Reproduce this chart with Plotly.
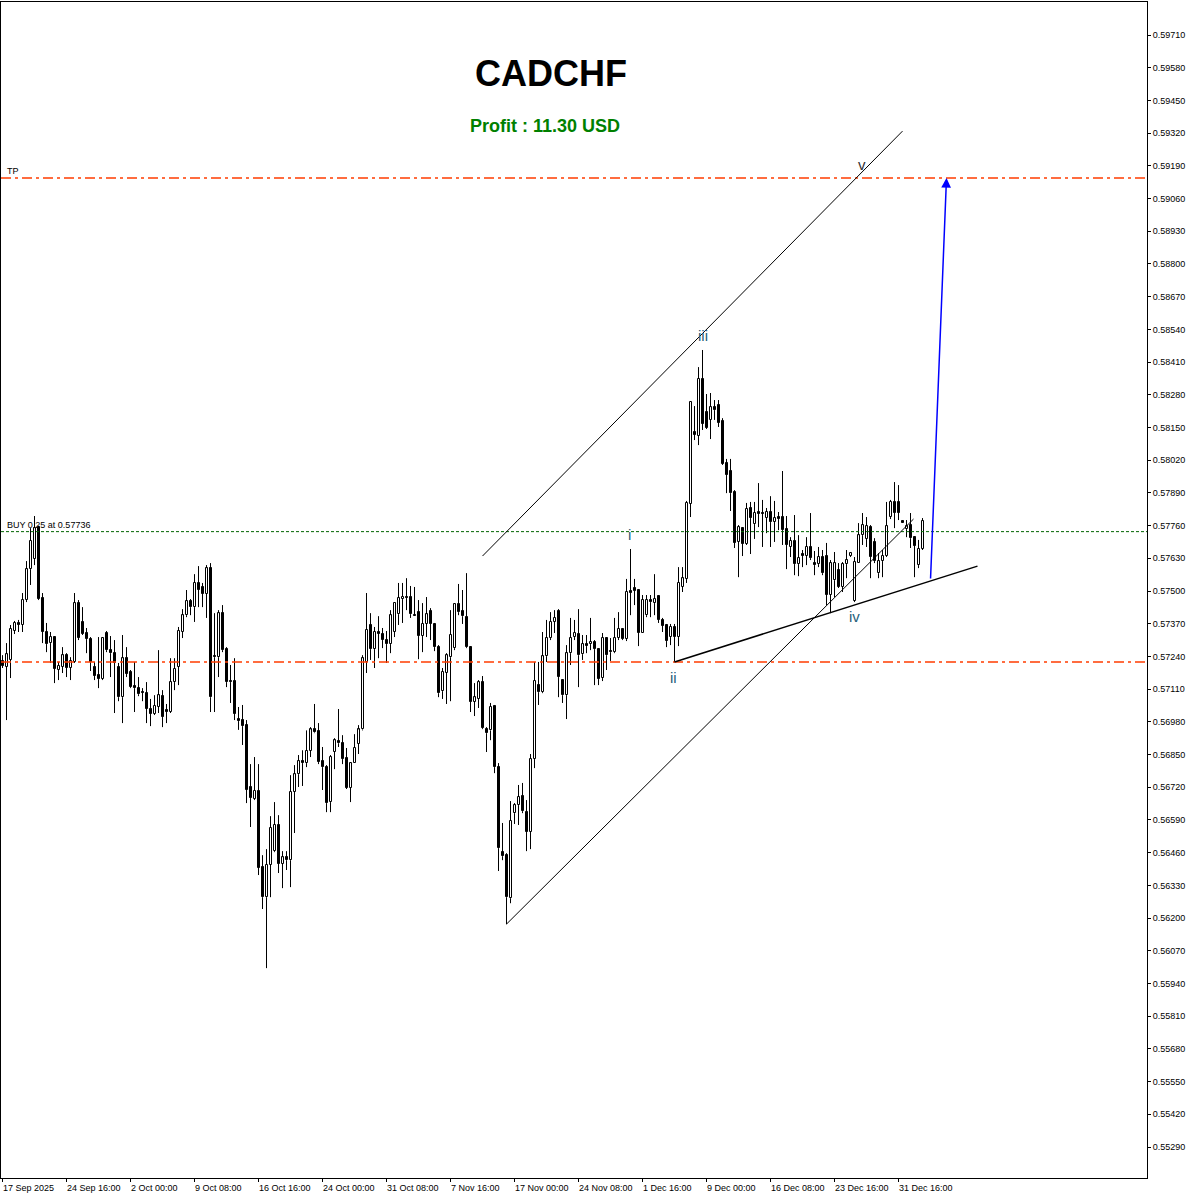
import plotly.graph_objects as go

# ---------------- data (H8 bars, CADCHF) ----------------
opens = [0.57222,0.57198,0.57226,0.57341,0.57373,0.57365,0.57464,0.57587,0.57627,0.57754,
         0.57472,0.57337,0.57293,0.57317,0.57186,0.57198,0.57245,0.57194,0.57218,0.57452,
         0.57377,0.57333,0.57309,0.57198,0.57166,0.57150,0.57333,0.57265,0.57253,0.57198,
         0.57078,0.57233,0.57178,0.57122,0.57114,0.57098,0.57096,0.57031,0.57011,0.57039,
         0.57082,0.57027,0.57019,0.57138,0.57198,0.57337,0.57404,0.57460,0.57436,0.57532,
         0.57516,0.57488,0.57591,0.57241,0.57237,0.57412,0.57269,0.57142,0.57142,0.56991,
         0.56987,0.56967,0.56721,0.56673,0.56705,0.56403,0.56283,0.56411,0.56466,0.56570,
         0.56415,0.56442,0.56430,0.56701,0.56772,0.56824,0.56816,0.56864,0.56950,0.56942,
         0.56824,0.56800,0.56661,0.56860,0.56903,0.56895,0.56836,0.56717,0.56816,0.56892,
         0.56950,0.57218,0.57365,0.57269,0.57337,0.57329,0.57305,0.57289,0.57337,0.57408,
         0.57468,0.57476,0.57476,0.57404,0.57416,0.57321,0.57369,0.57420,0.57369,0.57277,
         0.57102,0.57174,0.57237,0.57273,0.57448,0.57420,0.57396,0.57277,0.57059,0.57071,
         0.57138,0.56951,0.56946,0.57043,0.56800,0.56462,0.56450,0.56279,0.56617,0.56649,
         0.56685,0.56621,0.56542,0.56832,0.57126,0.57098,0.57241,0.57313,0.57377,0.57420,
         0.57146,0.57086,0.57253,0.57317,0.57329,0.57249,0.57289,0.57289,0.57297,0.57269,
         0.57154,0.57313,0.57261,0.57257,0.57313,0.57349,0.57309,0.57500,0.57512,0.57504,
         0.57333,0.57404,0.57464,0.57452,0.57480,0.57385,0.57365,0.57317,0.57357,0.57317,
         0.57516,0.57548,0.57846,0.58132,0.58116,0.58343,0.58211,0.58180,0.58231,0.58239,
         0.58176,0.58009,0.57977,0.57893,0.57695,0.57750,0.57687,0.57830,0.57766,0.57814,
         0.57810,0.57790,0.57814,0.57774,0.57794,0.57794,0.57746,0.57675,0.57699,0.57607,
         0.57647,0.57639,0.57675,0.57611,0.57607,0.57635,0.57639,0.57484,0.57543,0.57583,
         0.57516,0.57607,0.57639,0.57460,0.57611,0.57722,0.57707,0.57754,0.57695,0.57571,
         0.57619,0.57639,0.57794,0.57854,0.57854,0.57778,0.57746,0.57762,0.57714,0.57603,0.57667]

highs = [0.57245,0.57293,0.57365,0.57381,0.57385,0.57492,0.57619,0.57750,0.57798,0.57758,
         0.57492,0.57373,0.57337,0.57321,0.57218,0.57277,0.57253,0.57237,0.57492,0.57464,
         0.57436,0.57353,0.57317,0.57218,0.57317,0.57317,0.57341,0.57321,0.57305,0.57214,
         0.57325,0.57277,0.57186,0.57218,0.57158,0.57114,0.57138,0.57071,0.57086,0.57265,
         0.57106,0.57051,0.57233,0.57233,0.57357,0.57428,0.57504,0.57468,0.57567,0.57599,
         0.57532,0.57603,0.57611,0.57412,0.57424,0.57444,0.57277,0.57206,0.57233,0.57039,
         0.57047,0.56987,0.56812,0.56840,0.56812,0.56450,0.56474,0.56605,0.56661,0.56609,
         0.56466,0.56466,0.56768,0.56808,0.56848,0.56867,0.56946,0.56959,0.57051,0.56975,
         0.56880,0.56808,0.56848,0.56915,0.57031,0.56927,0.56876,0.56820,0.56931,0.56967,
         0.57245,0.57492,0.57412,0.57357,0.57400,0.57353,0.57341,0.57424,0.57452,0.57532,
         0.57532,0.57551,0.57520,0.57516,0.57464,0.57452,0.57476,0.57432,0.57373,0.57285,
         0.57194,0.57253,0.57424,0.57452,0.57528,0.57504,0.57571,0.57281,0.57134,0.57146,
         0.57162,0.56959,0.57055,0.57047,0.56816,0.56578,0.56458,0.56665,0.56657,0.56729,
         0.56737,0.56669,0.56852,0.57218,0.57218,0.57337,0.57385,0.57416,0.57424,0.57428,
         0.57146,0.57285,0.57393,0.57385,0.57428,0.57325,0.57325,0.57393,0.57305,0.57273,
         0.57333,0.57317,0.57313,0.57393,0.57416,0.57353,0.57548,0.57667,0.57548,0.57508,
         0.57484,0.57484,0.57484,0.57567,0.57480,0.57393,0.57369,0.57369,0.57369,0.57595,
         0.57595,0.57858,0.58251,0.58235,0.58390,0.58458,0.58283,0.58287,0.58259,0.58259,
         0.58187,0.58025,0.58025,0.57901,0.57762,0.57754,0.57850,0.57854,0.57854,0.57929,
         0.57862,0.57830,0.57877,0.57858,0.57814,0.57977,0.57798,0.57714,0.57802,0.57722,
         0.57663,0.57714,0.57810,0.57659,0.57675,0.57663,0.57691,0.57623,0.57655,0.57611,
         0.57615,0.57663,0.57655,0.57635,0.57770,0.57810,0.57794,0.57762,0.57710,0.57651,
         0.57663,0.57854,0.57862,0.57933,0.57921,0.57778,0.57782,0.57810,0.57718,0.57703,0.57790]

lows = [0.57194,0.56987,0.57154,0.57329,0.57337,0.57337,0.57456,0.57524,0.57603,0.57464,
        0.57293,0.57257,0.57214,0.57134,0.57146,0.57174,0.57158,0.57146,0.57214,0.57305,
        0.57325,0.57253,0.57182,0.57146,0.57114,0.57146,0.57257,0.57158,0.57015,0.57062,
        0.56975,0.57158,0.57114,0.57019,0.57082,0.57062,0.56975,0.56963,0.57007,0.57015,
        0.56959,0.56975,0.57015,0.57106,0.57126,0.57313,0.57396,0.57404,0.57377,0.57436,
        0.57436,0.57393,0.57019,0.57019,0.57158,0.57257,0.57118,0.57055,0.56987,0.56948,
        0.56888,0.56657,0.56562,0.56669,0.56371,0.56236,0.56001,0.56283,0.56462,0.56379,
        0.56319,0.56391,0.56323,0.56538,0.56721,0.56725,0.56800,0.56840,0.56935,0.56812,
        0.56709,0.56621,0.56621,0.56792,0.56880,0.56812,0.56713,0.56661,0.56816,0.56852,
        0.56946,0.57174,0.57226,0.57194,0.57233,0.57273,0.57214,0.57253,0.57317,0.57365,
        0.57373,0.57424,0.57393,0.57400,0.57229,0.57257,0.57317,0.57305,0.57261,0.57078,
        0.57071,0.57051,0.57062,0.57265,0.57404,0.57369,0.57273,0.57019,0.57003,0.57035,
        0.56951,0.56860,0.56907,0.56776,0.56387,0.56430,0.56176,0.56259,0.56574,0.56570,
        0.56617,0.56466,0.56474,0.56796,0.57047,0.57094,0.57218,0.57305,0.57333,0.57078,
        0.57055,0.56991,0.57206,0.57305,0.57118,0.57226,0.57253,0.57265,0.57126,0.57126,
        0.57142,0.57186,0.57222,0.57253,0.57305,0.57305,0.57301,0.57404,0.57444,0.57281,
        0.57333,0.57396,0.57396,0.57404,0.57373,0.57337,0.57277,0.57285,0.57218,0.57281,
        0.57496,0.57532,0.57794,0.58100,0.58080,0.58140,0.58144,0.58104,0.58180,0.58152,
        0.58001,0.57889,0.57818,0.57671,0.57555,0.57639,0.57683,0.57647,0.57707,0.57754,
        0.57675,0.57730,0.57675,0.57695,0.57742,0.57683,0.57587,0.57635,0.57563,0.57559,
        0.57595,0.57603,0.57623,0.57563,0.57595,0.57563,0.57444,0.57412,0.57476,0.57512,
        0.57496,0.57551,0.57635,0.57456,0.57611,0.57683,0.57675,0.57551,0.57611,0.57551,
        0.57555,0.57635,0.57786,0.57750,0.57782,0.57770,0.57714,0.57671,0.57555,0.57591,0.57663]

closes = [0.57202,0.57249,0.57349,0.57373,0.57365,0.57464,0.57587,0.57699,0.57750,0.57468,
          0.57337,0.57289,0.57317,0.57190,0.57202,0.57245,0.57194,0.57222,0.57452,0.57313,
          0.57329,0.57309,0.57218,0.57162,0.57150,0.57313,0.57265,0.57253,0.57214,0.57078,
          0.57233,0.57170,0.57118,0.57114,0.57090,0.57096,0.57031,0.57011,0.57043,0.57086,
          0.56999,0.57019,0.57138,0.57190,0.57341,0.57404,0.57460,0.57436,0.57532,0.57504,
          0.57488,0.57591,0.57078,0.57237,0.57412,0.57265,0.57138,0.57138,0.57011,0.56983,
          0.56963,0.56709,0.56677,0.56705,0.56399,0.56283,0.56411,0.56558,0.56570,0.56415,
          0.56442,0.56430,0.56701,0.56772,0.56824,0.56816,0.56864,0.56950,0.56938,0.56820,
          0.56800,0.56657,0.56840,0.56907,0.56895,0.56832,0.56717,0.56816,0.56876,0.56950,
          0.57233,0.57345,0.57269,0.57337,0.57329,0.57305,0.57289,0.57404,0.57452,0.57472,
          0.57476,0.57472,0.57408,0.57400,0.57321,0.57369,0.57408,0.57369,0.57277,0.57094,
          0.57178,0.57245,0.57325,0.57448,0.57416,0.57400,0.57277,0.57059,0.57078,0.57138,
          0.56955,0.56935,0.57039,0.56800,0.56478,0.56446,0.56283,0.56586,0.56649,0.56681,
          0.56625,0.56542,0.56832,0.57142,0.57098,0.57241,0.57313,0.57377,0.57393,0.57158,
          0.57086,0.57253,0.57313,0.57333,0.57245,0.57289,0.57281,0.57297,0.57269,0.57150,
          0.57313,0.57245,0.57257,0.57313,0.57349,0.57309,0.57496,0.57492,0.57500,0.57333,
          0.57464,0.57464,0.57456,0.57468,0.57385,0.57361,0.57301,0.57357,0.57317,0.57532,
          0.57551,0.57850,0.58251,0.58120,0.58343,0.58164,0.58148,0.58231,0.58219,0.58168,
          0.58005,0.57961,0.57889,0.57691,0.57754,0.57687,0.57826,0.57790,0.57810,0.57806,
          0.57806,0.57814,0.57774,0.57790,0.57786,0.57742,0.57683,0.57699,0.57607,0.57631,
          0.57639,0.57675,0.57631,0.57603,0.57635,0.57571,0.57484,0.57611,0.57611,0.57516,
          0.57607,0.57623,0.57651,0.57615,0.57722,0.57762,0.57758,0.57635,0.57619,0.57619,
          0.57639,0.57758,0.57854,0.57810,0.57810,0.57770,0.57758,0.57710,0.57679,0.57667,0.57778]

# time-axis labels (bar index -> text)
time_tick_bars = [0, 16, 32, 48, 64, 80, 96, 112, 128, 144, 160, 176, 192, 208, 224]
time_tick_text = ["17 Sep 2025", "24 Sep 16:00", "2 Oct 00:00", "9 Oct 08:00", "16 Oct 16:00",
                  "24 Oct 00:00", "31 Oct 08:00", "7 Nov 16:00", "17 Nov 00:00", "24 Nov 08:00",
                  "1 Dec 16:00", "9 Dec 00:00", "16 Dec 08:00", "23 Dec 16:00", "31 Dec 16:00"]

# price-axis ticks
price_ticks = [0.55290, 0.55420, 0.55550, 0.55680, 0.55810, 0.55940, 0.56070, 0.56200, 0.56330,
               0.56460, 0.56590, 0.56720, 0.56850, 0.56980, 0.57110, 0.57240, 0.57370, 0.57500,
               0.57630, 0.57760, 0.57890, 0.58020, 0.58150, 0.58280, 0.58410, 0.58540, 0.58670,
               0.58800, 0.58930, 0.59060, 0.59190, 0.59320, 0.59450, 0.59580, 0.59710]
price_tick_text = ["%.5f" % v for v in price_ticks]

# trade levels
tp_price = 0.59142
sl_price = 0.57218
entry_price = 0.57736

# wave drawing anchors (bar index, price)
upper_line = [(120, 0.57639), (225, 0.59328)]
lower_line = [(126, 0.56176), (227.75, 0.57786)]
wave_ii_line = [(168, 0.57218), (243.75, 0.57599)]
arrow_line = [(232, 0.57544), (236, 0.59142)]

wave_labels = ["i", "ii", "iii", "iv", "v"]
wave_label_bar = [156.75, 167.75, 175.0, 213.0, 214.75]
wave_label_price = [0.57726, 0.57158, 0.58517, 0.57397, 0.59197]

# ---------------- figure ----------------
bars = list(range(len(opens)))

# wicks: from high down to body top, and from body bottom down to low
wick_x, wick_y = [], []
for b, o, h, l, c in zip(bars, opens, highs, lows, closes):
    top, bot = max(o, c), min(o, c)
    wick_x += [b, b, None, b, b, None]
    wick_y += [h, top, None, bot, l, None]

body_base = [min(o, c) for o, c in zip(opens, closes)]
body_size = [abs(c - o) for o, c in zip(opens, closes)]
body_fill = ["white" if c >= o else "black" for o, c in zip(opens, closes)]

fig = go.Figure()
fig.add_trace(go.Scatter(x=wick_x, y=wick_y, mode="lines", line=dict(color="black", width=1),
                         hoverinfo="skip", showlegend=False))
fig.add_trace(go.Bar(x=bars, y=body_size, base=body_base, width=0.5,
                     marker=dict(color=body_fill, line=dict(color="black", width=1)),
                     hoverinfo="skip", showlegend=False))

shapes = []
# TP and SL levels
for lvl in (tp_price, sl_price):
    shapes.append(dict(type="line", xref="paper", x0=0, x1=1, yref="y", y0=lvl, y1=lvl,
                       line=dict(color="#FF3C00", width=1.5, dash="10px,4px,3px,4px")))
# entry level
shapes.append(dict(type="line", xref="paper", x0=0, x1=1, yref="y", y0=entry_price, y1=entry_price,
                   line=dict(color="#006400", width=1, dash="3px,2px")))
# channel / wave lines
for seg, w in ((upper_line, 1), (lower_line, 1), (wave_ii_line, 1.5)):
    shapes.append(dict(type="line", xref="x", yref="y", x0=seg[0][0], y0=seg[0][1],
                       x1=seg[1][0], y1=seg[1][1], line=dict(color="black", width=w)))

annotations = []
# title and profit
annotations.append(dict(text="<b>CADCHF</b>", xref="paper", yref="paper", x=0.4799, y=0.9396,
                        xanchor="center", yanchor="middle", showarrow=False,
                        font=dict(family="Liberation Sans", size=36, color="black")))
annotations.append(dict(text="<b>Profit : 11.30 USD</b>", xref="paper", yref="paper", x=0.4751, y=0.8946,
                        xanchor="center", yanchor="middle", showarrow=False,
                        font=dict(family="Liberation Sans", size=18, color="#008000")))
# level labels
annotations.append(dict(text="TP", xref="paper", yref="y", x=0.0035, y=tp_price, xanchor="left",
                        yanchor="bottom", showarrow=False,
                        font=dict(family="Liberation Sans", size=9, color="black")))
annotations.append(dict(text="BUY 0.25 at 0.57736", xref="paper", yref="y", x=0.0035, y=entry_price,
                        xanchor="left", yanchor="bottom", showarrow=False,
                        font=dict(family="Liberation Sans", size=9, color="black")))
# wave labels
for t, bx, py in zip(wave_labels, wave_label_bar, wave_label_price):
    col = "#333333" if t == "v" else "#1F5F7A"
    annotations.append(dict(text=t, x=bx, y=py, xref="x", yref="y", showarrow=False,
                            font=dict(family="Liberation Sans", size=15, color=col)))
# projection arrow
annotations.append(dict(x=arrow_line[1][0], y=arrow_line[1][1], ax=arrow_line[0][0], ay=arrow_line[0][1],
                        xref="x", yref="y", axref="x", ayref="y", text="", showarrow=True,
                        arrowhead=2, arrowsize=1.3, arrowwidth=1.5, arrowcolor="#0000FF",
                        standoff=0))
# time axis labels (left aligned at the bar)
for b, t in zip(time_tick_bars, time_tick_text):
    annotations.append(dict(text=t, x=b, xref="x", y=0, yref="paper", xanchor="left", yanchor="top",
                            showarrow=False, yshift=-3, xshift=-2,
                            font=dict(family="Liberation Sans", size=9, color="black")))

fig.update_layout(
    width=1200, height=1200,
    margin=dict(l=1, r=53, t=2, b=22, pad=0),
    paper_bgcolor="white", plot_bgcolor="white",
    showlegend=False, bargap=0,
    shapes=shapes, annotations=annotations,
    xaxis=dict(range=[-0.375, 286.125], showgrid=False, zeroline=False,
               showline=True, mirror=True, linecolor="black", linewidth=1,
               tickmode="array", tickvals=time_tick_bars, ticktext=[""] * len(time_tick_bars),
               ticks="outside", ticklen=3, tickcolor="black"),
    yaxis=dict(range=[0.551668, 0.598412], side="right", showgrid=False, zeroline=False,
               showline=True, mirror=True, linecolor="black", linewidth=1,
               tickmode="array", tickvals=price_ticks, ticktext=price_tick_text,
               ticks="outside", ticklen=3, tickcolor="black",
               tickfont=dict(family="Liberation Sans", size=9, color="black")),
)

fig.write_html("out.html", config={"displayModeBar": False},
               post_script="document.body.style.margin='0';document.body.style.overflow='hidden';")
